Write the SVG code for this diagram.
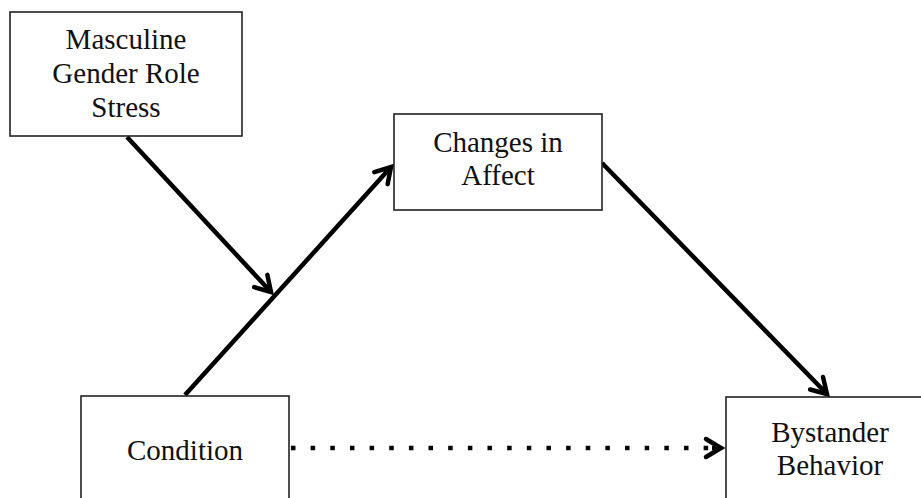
<svg xmlns="http://www.w3.org/2000/svg" width="921" height="498" viewBox="0 0 921 498">
<style>
.box{fill:#fff;stroke:#222;stroke-width:1.6}
.t{font-family:"Liberation Serif","Times New Roman",serif;font-size:29px;fill:#111;text-anchor:middle}
.c{stroke:#000;stroke-width:4.5;fill:none}
.d{stroke:#000;stroke-width:4.5;fill:none;stroke-dasharray:4.5 15.15}
</style>
<defs>
<marker id="ah" markerUnits="userSpaceOnUse" markerWidth="40" markerHeight="40" viewBox="-20 -20 40 40" refX="0" refY="0" orient="auto" overflow="visible">
<path d="M-15,-9 L0,0 L-15,9" fill="none" stroke="#000" stroke-width="4.5" stroke-linecap="round" stroke-linejoin="miter"/>
</marker>
</defs>
<rect width="921" height="498" fill="#fff"/>
<g id="connectors">
<line class="c" x1="127" y1="137" x2="271" y2="292" marker-end="url(#ah)"/>
<line class="c" x1="185" y1="395" x2="391" y2="167" marker-end="url(#ah)"/>
<line class="c" x1="602" y1="163" x2="827" y2="394" marker-end="url(#ah)"/>
<line class="d" x1="291" y1="448" x2="712" y2="448"/>
<line class="c" x1="712" y1="448" x2="721" y2="448" stroke-width="0" marker-end="url(#ah)"/>
</g>
<g id="masculine">
<rect class="box" x="10" y="12" width="232" height="124"/>
<text class="t" x="126" y="49">Masculine</text>
<text class="t" x="126" y="83">Gender Role</text>
<text class="t" x="126" y="117">Stress</text>
</g>
<g id="affect">
<rect class="box" x="394" y="114" width="208" height="96"/>
<text class="t" x="498" y="152">Changes in</text>
<text class="t" x="498" y="185">Affect</text>
</g>
<g id="condition">
<rect class="box" x="81" y="396" width="208" height="110"/>
<text class="t" x="185" y="460">Condition</text>
</g>
<g id="bystander">
<rect class="box" x="726" y="397" width="210" height="110"/>
<text class="t" x="830" y="442">Bystander</text>
<text class="t" x="830" y="475">Behavior</text>
</g>
</svg>
